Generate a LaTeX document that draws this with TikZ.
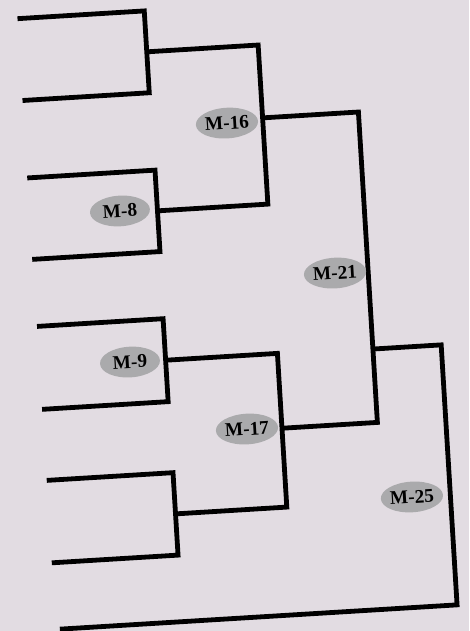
\documentclass[tikz,border=0pt]{standalone}
\usepackage{fontspec}
\setmainfont{Liberation Serif}
\usepackage{xcolor}
\usepackage{tikz}
\usetikzlibrary{shapes.geometric}
\definecolor{paper}{RGB}{226,220,226}
\definecolor{tagfill}{RGB}{170,170,172}

\begin{document}
\begin{tikzpicture}[
    x=0.75pt, y=-0.75pt,
    wire/.style={line width=3.6pt, line join=miter},
    tag/.style={ellipse, fill=tagfill, minimum width=45pt, minimum height=23pt, inner sep=0pt, font=\fontsize{14.5}{14.5}\selectfont\bfseries},
]

% Paper
\fill[paper] (0,0) rectangle (469,631);
\useasboundingbox (0,0) rectangle (469,631);

\begin{scope}[rotate around={3.5:(234,315)}, transform shape]

% First round
\coordinate (a1) at (36,6);
\coordinate (a2) at (36,88);
\coordinate (b1) at (36,165.6);
\coordinate (b2) at (36,247.2);
\coordinate (c1) at (36.7,314.4);
\coordinate (c2) at (36.7,397.5);
\coordinate (d1) at (37,468.7);
\coordinate (d2) at (37,551.3);
\coordinate (ja) at (163,47);
\coordinate (jb) at (164,206.4);
\coordinate (jc) at (163,356);
\coordinate (jd) at (163.5,510);

\draw[wire] (a1) -| (ja) |- (a2);
\draw[wire] (b1) -| (jb) |- (b2);
\draw[wire] (c1) -| (jc) |- (c2);
\draw[wire] (d1) -| (jd) |- (d2);

% Later rounds
\coordinate (j16) at (274.6,120);
\coordinate (j17) at (275,431);
\coordinate (j21) at (370.6,357.5);
\coordinate (c25) at (439,618);
\coordinate (fin) at (41,618);

\draw[wire] (ja) -| (j16) |- (jb);
\draw[wire] (jc) -| (j17) |- (jd);
\draw[wire] (j16) -| (j21) |- (j17);
\draw[wire] (j21) -| (c25) -- (fin);

% Match tags
\node[tag] (m8) at (126.5,204.2) {M-8};
\node[tag] (m9) at (127.3,355.6) {M-9};
\node[tag] (m16) at (238.7,123) {M-16};
\node[tag] (m17) at (240,429.6) {M-17};
\node[tag] (m21) at (337.4,279.3) {M-21};
\node[tag] (m25) at (400.5,507.5) {M-25};

\end{scope}

\end{tikzpicture}
\end{document}
